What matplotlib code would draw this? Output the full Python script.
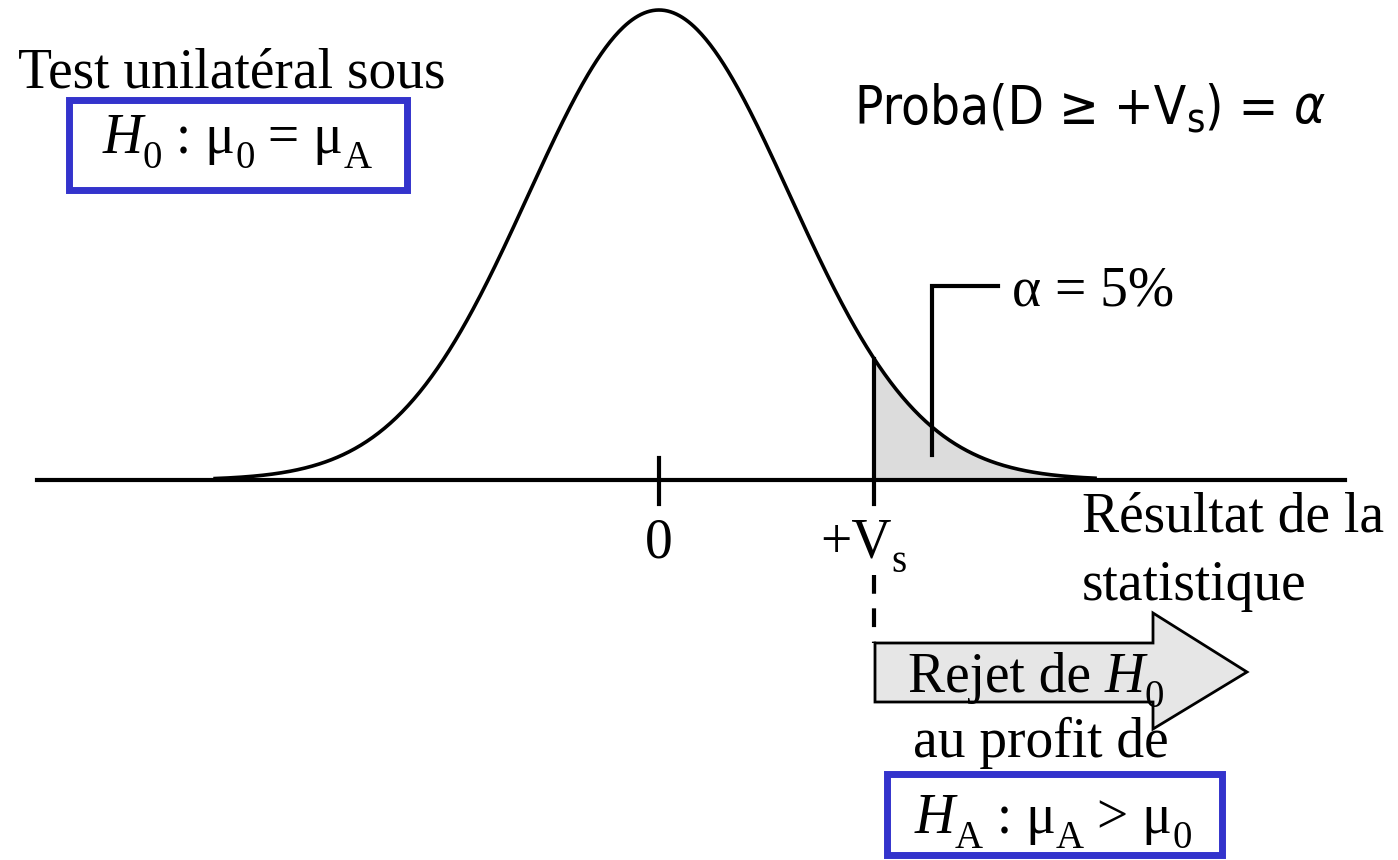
import numpy as np
import matplotlib
matplotlib.use("Agg")
import matplotlib.pyplot as plt
from matplotlib.patches import Rectangle, Polygon

# ---------------------------
# Donnees du schema
# ---------------------------
mu_0 = 0.0          # moyenne sous H0
sigma = 1.0
v_s = 1.645         # valeur seuil (unilateral, alpha = 5%)
alpha_label = "α = 5%"
z_min, z_max = -3.41, 3.35   # etendue de la courbe dessinee
tick_values = [mu_0, v_s]

# ---------------------------
# Mise en page (pixels de la figure)
# ---------------------------
W, H = 1398, 860
X0_PX, SIG_PX = 659, 130.7       # position de 0 et largeur d'un ecart-type
BASE_PX, PEAK_PX = 480, 10       # ligne de base et sommet de la courbe
BLUE = "#3333CC"
LW = 2.6
SERIF = "Liberation Serif"
FS = 40


def pdf(z):
    return np.exp(-0.5 * ((z - mu_0) / sigma) ** 2) / (sigma * np.sqrt(2 * np.pi))


def fr(x, y):
    # pixels -> fraction d'axes
    return x / W, 1 - y / H


k = (BASE_PX - PEAK_PX) / pdf(mu_0)   # pixels par unite de densite

fig = plt.figure(figsize=(W / 100, H / 100), dpi=100)
ax = fig.add_axes([0, 0, 1, 1])
ax.set_xlim(-X0_PX / SIG_PX, (W - X0_PX) / SIG_PX)
ax.set_ylim(-(H - BASE_PX) / k, BASE_PX / k)
ax.axis("off")
renderer = fig.canvas.get_renderer()


def runs(x, y, parts, ha="left", size=FS, family=SERIF, sub_scale=0.7,
         sub_drop=0.38, **kw):
    # texte compose de morceaux (indices abaisses, italique...)
    objs = []
    for p in parts:
        txt, opts = p[0], dict(p[1]) if len(p) > 1 else {}
        sub = opts.pop("sub", False)
        fs = size * sub_scale if sub else size
        t = ax.text(0, 0, txt, transform=ax.transAxes, ha="left", va="baseline",
                    fontsize=fs, family=opts.pop("family", family), **opts, **kw)
        w = t.get_window_extent(renderer).width
        objs.append((t, w, size * sub_drop if sub else 0))
    total = sum(w for _, w, _ in objs)
    cx = x - total / 2 if ha == "center" else x
    for t, w, dy in objs:
        t.set_position(fr(cx, y + dy))
        cx += w


IT = {"style": "italic"}
SUB = {"sub": True}

# courbe normale
z = np.linspace(z_min, z_max, 600)
ax.plot(z, pdf(z), color="black", lw=LW, solid_capstyle="butt", zorder=3)

# zone de rejet
zt = z[z >= v_s]
ax.fill_between(zt, 0, pdf(zt), color="#DCDCDC", zorder=1)

# axe horizontal
ax.plot([37 / W, 1345 / W], [0, 0], transform=ax.get_yaxis_transform(),
        color="black", lw=LW + 0.4, zorder=4)

# graduations
tick_dn = 24 / k
ax.plot([tick_values[0]] * 2, [-tick_dn, 22 / k], color="black", lw=LW + 0.4, zorder=4)
ax.plot([tick_values[1]] * 2, [-tick_dn, pdf(v_s)], color="black", lw=LW + 0.4, zorder=4)

ax.text(tick_values[0], -77 / k, "0", ha="center", va="baseline",
        fontsize=FS, family=SERIF)
runs(820, 557, [("+V",), ("s", SUB)])

# trait pointille vers la fleche
ax.plot([v_s, v_s], [-95 / k, -163 / k], color="black", lw=LW + 0.4,
        linestyle=(0, (4.5, 3.5)), zorder=4)

# repere alpha = 5%
ax.plot(*zip(fr(932, 455), fr(932, 286), fr(998, 286)), transform=ax.transAxes,
        color="black", lw=LW + 0.4, solid_joinstyle="miter", zorder=4)
ax.text(*fr(1012, 305), alpha_label, transform=ax.transAxes,
        ha="left", va="baseline", fontsize=FS, family=SERIF)

# titres
ax.text(*fr(18, 87), "Test unilatéral sous", transform=ax.transAxes,
        ha="left", va="baseline", fontsize=FS, family=SERIF)
runs(855, 123, [("Proba(D ≥ +V",), ("s", SUB), (") = ",), ("α", IT)],
     size=38, family="DejaVu Sans", fontstretch="condensed",
     sub_scale=0.75, sub_drop=0.25)

# cadres bleus
boxes = [
    ((68.5, 100.5, 406.5, 189.5), (237, 153),
     [("H", IT), ("0", SUB), (" : μ",), ("0", SUB), (" = μ",), ("A", SUB)]),
    ((886.5, 773.5, 1221.5, 854.5), (1053, 833),
     [("H", IT), ("A", SUB), (" : μ",), ("A", SUB), (" > μ",), ("0", SUB)]),
]
for (x1, y1, x2, y2), (tx, ty), parts in boxes:
    ax.add_patch(Rectangle(fr(x1, y2), (x2 - x1) / W, (y2 - y1) / H,
                           transform=ax.transAxes, fill=False,
                           edgecolor=BLUE, lw=5, joinstyle="miter"))
    runs(tx, ty, parts, ha="center")

# fleche de rejet
arrow_px = [(875, 643), (1153, 643), (1153, 613), (1247, 672),
            (1153, 729), (1153, 702), (875, 702)]
ax.add_patch(Polygon([fr(x, y) for x, y in arrow_px], closed=True,
                     transform=ax.transAxes, facecolor="#E6E6E6",
                     edgecolor="black", lw=2, joinstyle="miter", zorder=2))
runs(908, 692, [("Rejet de ",), ("H", IT), ("0", SUB)], zorder=5)
ax.text(*fr(913, 757), "au profit de", transform=ax.transAxes,
        ha="left", va="baseline", fontsize=FS, family=SERIF)

ax.text(*fr(1082, 532), "Résultat de la", transform=ax.transAxes,
        ha="left", va="baseline", fontsize=FS, family=SERIF)
ax.text(*fr(1082, 600), "statistique", transform=ax.transAxes,
        ha="left", va="baseline", fontsize=FS, family=SERIF)

fig.savefig("out.png", dpi=100)
